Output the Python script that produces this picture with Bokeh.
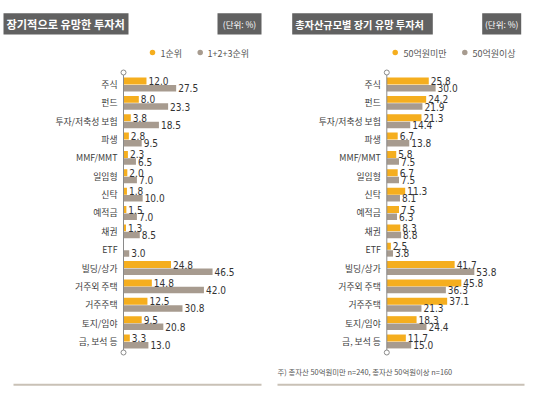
from bokeh.plotting import figure
from bokeh.models import Range1d, ColumnDataSource
from bokeh.core.properties import value
from bokeh.embed import file_html
from bokeh.resources import INLINE

categories = ["주식", "펀드", "투자/저축성 보험", "파생", "MMF/MMT", "일임형", "신탁", "예적금",
              "채권", "ETF", "빌딩/상가", "거주외 주택", "거주주택", "토지/임야", "금, 보석 등"]

left_title = "장기적으로 유망한 투자처"
left_series = ["1순위", "1+2+3순위"]
left_first = [12.0, 8.0, 3.8, 2.8, 2.3, 2.0, 1.8, 1.5, 1.3, None, 24.8, 14.8, 12.5, 9.5, 3.3]
left_total = [27.5, 23.3, 18.5, 9.5, 6.5, 7.0, 10.0, 7.0, 8.5, 3.0, 46.5, 42.0, 30.8, 20.8, 13.0]

right_title = "총자산규모별 장기 유망 투자처"
right_series = ["50억원미만", "50억원이상"]
right_under = [25.8, 24.2, 21.3, 6.7, 5.8, 6.7, 11.3, 7.5, 8.3, 2.5, 41.7, 45.8, 37.1, 18.3, 11.7]
right_over = [30.0, 21.9, 14.4, 13.8, 7.5, 7.5, 8.1, 6.3, 8.8, 3.8, 53.8, 36.3, 21.3, 24.4, 15.0]

unit_text = "(단위: %)"
footnote = "주) 총자산 50억원미만 n=240, 총자산 50억원이상 n=160"

ORANGE = "#F5AE1E"
TAUPE = "#A79B8F"
BOXGRAY = "#616161"
LINEGRAY = "#C9C1B6"
TEXT = "#3c3c3c"

KFONT = value("Noto Sans CJK KR")
NFONT = value("'Liberation Sans Narrow', 'DejaVu Sans Condensed', 'Noto Sans CJK KR', sans-serif")

W, H = 526, 390
ROW0, STEP = 84.0, 18.357
LEFT_AXIS, LEFT_SCALE = 123.0, 1.915
RIGHT_AXIS, RIGHT_SCALE = 386.3, 1.627


def yd(py):
    return (py - ROW0) / STEP


p = figure(width=W, height=H, output_backend="svg", toolbar_location=None,
           x_range=Range1d(-LEFT_AXIS / LEFT_SCALE, (W - LEFT_AXIS) / LEFT_SCALE),
           y_range=Range1d(yd(H), yd(0)),
           min_border=0, outline_line_color=None,
           x_axis_location=None, y_axis_location=None,
           background_fill_color="white", border_fill_color="white")
p.extra_x_ranges = {"right": Range1d(-RIGHT_AXIS / RIGHT_SCALE, (W - RIGHT_AXIS) / RIGHT_SCALE)}
p.grid.visible = False


def panel(rn, title, series, a_vals, b_vals, axis_px, scale, title_box, title_size,
          unit_box, legend_px, label_line, note=None):
    xd = lambda px: (px - axis_px) / scale
    kw = dict(x_range_name=rn)
    idx = list(range(len(categories)))
    a = [v if v is not None else float("nan") for v in a_vals]
    src = ColumnDataSource(dict(a=a, b=b_vals, cat=categories,
                                ya=[i - 0.19 for i in idx], yb=[i + 0.2 for i in idx]))
    p.hbar(y="ya", right="a", left=0, height=0.38, source=src, color=ORANGE, line_color=None, **kw)
    p.hbar(y="yb", right="b", left=0, height=0.355, source=src, color=TAUPE, line_color=None, **kw)

    la = [(v, i - 0.19) for i, v in enumerate(a_vals) if v is not None]
    p.text(x=[v for v, _ in la], y=[y for _, y in la], text=[f"{v:.1f}" for v, _ in la],
           x_offset=2, text_baseline="middle", text_align="left", text_font=NFONT,
           text_font_size="10px", text_color="#333333", **kw)
    p.text(x=b_vals, y=[i + 0.2 for i in idx], text=[f"{v:.1f}" for v in b_vals],
           x_offset=2, text_baseline="middle", text_align="left", text_font=NFONT,
           text_font_size="10px", text_color="#333333", **kw)

    # category labels
    p.text(x=[0] * len(idx), y=idx, text=categories, x_offset=-6, text_align="right",
           text_baseline="middle", text_font=KFONT, text_font_size="8.8px", text_color=TEXT, **kw)

    # axis line with end circles
    p.segment(x0=[0], y0=[yd(72)], x1=[0], y1=[yd(352)], line_color="#8a8a8a", line_width=1, **kw)
    p.scatter(x=[0, 0], y=[yd(72), yd(352)], size=5, fill_color="white",
              line_color="#8a8a8a", line_width=1, **kw)

    # title box
    l, r = title_box
    p.quad(left=[xd(l)], right=[xd(r)], top=[yd(12.7)], bottom=[yd(34)], color=BOXGRAY,
           line_color=None, **kw)
    p.text(x=[xd(l + 3)], y=[yd(23.6)], text=[title], text_align="left", text_baseline="middle",
           text_font=KFONT, text_font_size=title_size, text_font_style="bold", text_color="white", **kw)
    ul, ur = unit_box
    p.quad(left=[xd(ul)], right=[xd(ur)], top=[yd(12.7)], bottom=[yd(34)], color=BOXGRAY,
           line_color=None, **kw)
    p.text(x=[xd((ul + ur) / 2)], y=[yd(23.6)], text=[unit_text], text_align="center",
           text_baseline="middle", text_font=KFONT, text_font_size="8.5px", text_color="white", **kw)

    # legend
    (d1, t1), (d2, t2) = legend_px
    p.scatter(x=[xd(d1), xd(d2)], y=[yd(52), yd(52)], size=5.5, color=[ORANGE, TAUPE],
              line_color=None, **kw)
    p.text(x=[xd(t1), xd(t2)], y=[yd(52.5), yd(52.5)], text=series, text_align="left",
           text_baseline="middle", text_font=KFONT, text_font_size="9px", text_color="#555555", **kw)

    if note:
        p.text(x=[xd(277)], y=[yd(370.7)], text=[note], text_align="left", text_baseline="middle",
               text_font=KFONT, text_font_size="7.4px", text_color="#555555", **kw)

    ll, lr = label_line
    p.segment(x0=[xd(ll)], y0=[yd(384.3)], x1=[xd(lr)], y1=[yd(384.3)], line_color=LINEGRAY,
              line_width=2, **kw)


panel("default", left_title, left_series, left_first, left_total, LEFT_AXIS, LEFT_SCALE,
      (3, 128), "11.2px", (217, 261), ((152, 160), (199.7, 207)), (13, 261))
panel("right", right_title, right_series, right_under, right_over, RIGHT_AXIS, RIGHT_SCALE,
      (291.7, 432.3), "10.2px", (481.7, 520.7), ((394.7, 403), (464.3, 472)), (277, 524),
      note=footnote)

open("out.html", "w").write(file_html(p, INLINE))
